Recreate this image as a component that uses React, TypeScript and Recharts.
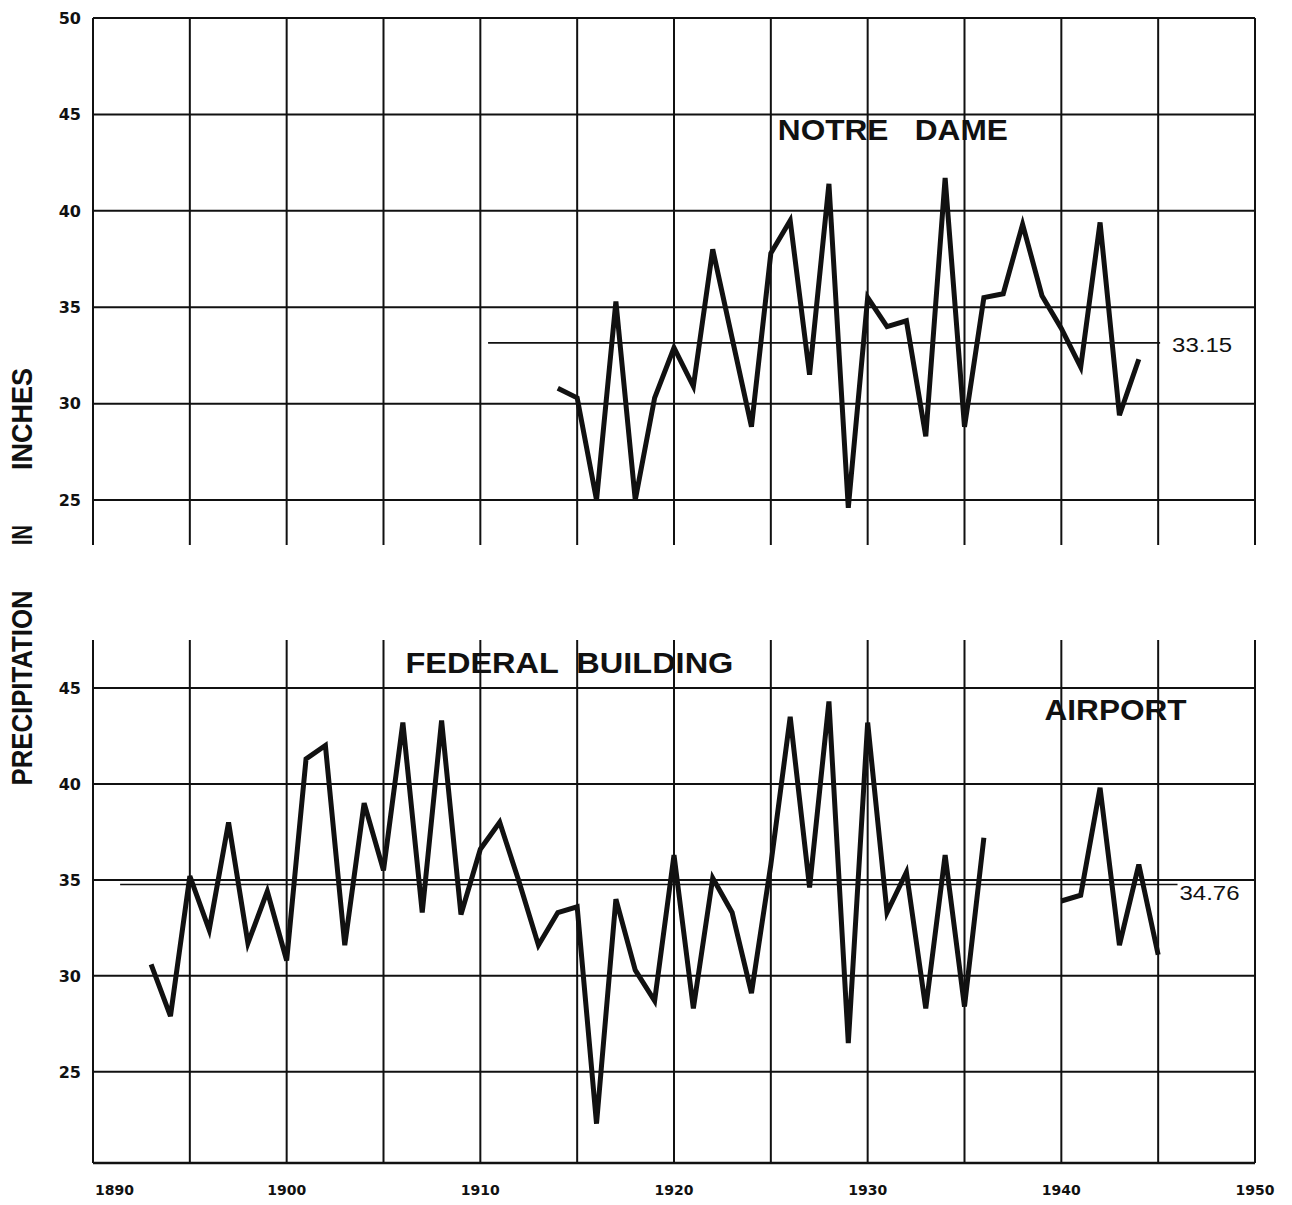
import React from "react";
import { LineChart, Line, XAxis, YAxis, CartesianGrid, ReferenceDot, ReferenceLine } from "recharts";

// annual precipitation
const notreYears = [
  1914, 1915, 1916, 1917, 1918, 1919, 1920, 1921, 1922, 1923, 1924, 1925, 1926, 1927, 1928, 1929,
  1930, 1931, 1932, 1933, 1934, 1935, 1936, 1937, 1938, 1939, 1940, 1941, 1942, 1943, 1944,
];
const notreInches = [
  30.8, 30.3, 25.0, 35.3, 25.0, 30.3, 32.9, 30.9, 38.0, 33.4, 28.8, 37.8, 39.5, 31.5, 41.4, 24.6,
  35.5, 34.0, 34.3, 28.3, 41.7, 28.8, 35.5, 35.7, 39.3, 35.6, 33.9, 31.9, 39.4, 29.4, 32.3,
];

const federalYears = [
  1893, 1894, 1895, 1896, 1897, 1898, 1899, 1900, 1901, 1902, 1903, 1904, 1905, 1906, 1907, 1908,
  1909, 1910, 1911, 1912, 1913, 1914, 1915, 1916, 1917, 1918, 1919, 1920, 1921, 1922, 1923, 1924,
  1925, 1926, 1927, 1928, 1929, 1930, 1931, 1932, 1933, 1934, 1935, 1936,
];
const federalInches = [
  30.6, 27.9, 35.2, 32.4, 38.0, 31.7, 34.4, 30.8, 41.3, 42.0, 31.6, 39.0, 35.5, 43.2, 33.3, 43.3,
  33.2, 36.6, 38.0, 34.9, 31.6, 33.3, 33.6, 22.3, 34.0, 30.3, 28.7, 36.3, 28.3, 35.1, 33.3, 29.1,
  35.8, 43.5, 34.6, 44.3, 26.5, 43.2, 33.3, 35.4, 28.3, 36.3, 28.4, 37.2,
];

const airportYears = [1940, 1941, 1942, 1943, 1944, 1945];
const airportInches = [33.9, 34.2, 39.8, 31.6, 35.8, 31.1];

const notreMean = 33.15;
const notreMeanSpan = [1910.4, 1945.1];
const recordMean = 34.76;
const recordMeanSpan = [1891.4, 1946.0];

const xTicks = [1890, 1895, 1900, 1905, 1910, 1915, 1920, 1925, 1930, 1935, 1940, 1945, 1950];
const topTicks = [25, 30, 35, 40, 45, 50];
const bottomTicks = [25, 30, 35, 40, 45];

const toPoints = (years: number[], vals: number[]) => years.map((year, i) => ({ year, v: vals[i] }));
const meanPoints = (span: number[], v: number) => span.map((year) => ({ year, v }));

const INK = "#111";
const tickStyle = { fill: INK, fontSize: 16, fontWeight: 700, fontFamily: "DejaVu Sans" };

const YearTick = (props: any) => {
  const { x, y, payload } = props;
  if (payload.value % 10 !== 0) return null;
  return (
    <text
      x={payload.value === 1890 ? x + 2 : x}
      y={y + 24}
      textAnchor={payload.value === 1890 ? "start" : "middle"}
      fill={INK}
      fontSize={14}
      fontWeight={700}
      fontFamily="DejaVu Sans"
    >
      {payload.value}
    </text>
  );
};

const meanLabel = (dx: number, dy: number) => (props: any) => {
  const { x, y, index, value } = props;
  if (index !== 1) return null;
  return (
    <text
      x={x + dx}
      y={y + dy}
      fill={INK}
      fontSize={20}
      fontFamily="Liberation Sans"
      dominantBaseline="middle"
      textLength={60}
      lengthAdjust="spacingAndGlyphs"
    >
      {Number(value).toFixed(2)}
    </text>
  );
};

const title = (text: string, len: number) => (p: any) => (
  <text
    x={p.cx}
    y={p.cy}
    textAnchor="middle"
    dominantBaseline="middle"
    fill={INK}
    fontSize={30}
    fontWeight={700}
    fontFamily="Liberation Sans"
    textLength={len}
    lengthAdjust="spacingAndGlyphs"
    style={{ whiteSpace: "pre" }}
  >
    {text}
  </text>
);

const gridLines = (ticks: number[]) =>
  ticks.map((t) => <ReferenceLine key={t} y={t} stroke={INK} strokeWidth={2} />);

export default function App() {
  return (
    <div style={{ position: "absolute", left: 0, top: 0, width: 1292, height: 1205, background: "#fff" }}>
      <div style={{ position: "absolute", left: 0, top: 0 }}>
        <LineChart width={1292} height={560} margin={{ top: 18, right: 37, bottom: 15, left: 0 }}>
          <CartesianGrid stroke={INK} strokeWidth={2} horizontal={false} />
          <XAxis type="number" dataKey="year" domain={[1890, 1950]} ticks={xTicks} hide />
          <YAxis
            type="number"
            domain={[22.67, 50]}
            ticks={topTicks}
            width={93}
            axisLine={false}
            tickLine={false}
            tickMargin={6}
            tick={tickStyle}
            allowDataOverflow
          />
          {gridLines(topTicks)}
          <Line
            data={meanPoints(notreMeanSpan, notreMean)}
            dataKey="v"
            stroke={INK}
            strokeWidth={1.6}
            dot={false}
            isAnimationActive={false}
            label={meanLabel(12, 4)}
          />
          <Line
            data={toPoints(notreYears, notreInches)}
            dataKey="v"
            stroke={INK}
            strokeWidth={5}
            strokeLinejoin="miter"
            dot={false}
            isAnimationActive={false}
          />
          <ReferenceDot x={1931.3} y={44.1} r={0} shape={title("NOTRE   DAME", 230)} ifOverflow="visible" />
        </LineChart>
      </div>

      <div style={{ position: "absolute", left: 0, top: 620 }}>
        <LineChart width={1292} height={585} margin={{ top: 20, right: 37, bottom: 0, left: 0 }}>
          <CartesianGrid stroke={INK} strokeWidth={2} horizontal={false} />
          <XAxis
            type="number"
            dataKey="year"
            domain={[1890, 1950]}
            ticks={xTicks}
            height={42}
            axisLine={{ stroke: INK, strokeWidth: 2.5 }}
            tickLine={false}
            tick={<YearTick />}
          />
          <YAxis
            type="number"
            domain={[20.25, 47.5]}
            ticks={bottomTicks}
            width={93}
            axisLine={false}
            tickLine={false}
            tickMargin={6}
            tick={tickStyle}
            allowDataOverflow
          />
          {gridLines(bottomTicks)}
          <Line
            data={meanPoints(recordMeanSpan, recordMean)}
            dataKey="v"
            stroke={INK}
            strokeWidth={1.6}
            dot={false}
            isAnimationActive={false}
            label={meanLabel(2, 10)}
          />
          <Line
            data={toPoints(federalYears, federalInches)}
            dataKey="v"
            stroke={INK}
            strokeWidth={5}
            strokeLinejoin="miter"
            dot={false}
            isAnimationActive={false}
          />
          <Line
            data={toPoints(airportYears, airportInches)}
            dataKey="v"
            stroke={INK}
            strokeWidth={5}
            strokeLinejoin="miter"
            dot={false}
            isAnimationActive={false}
          />
          <ReferenceDot x={1914.6} y={46.2} r={0} shape={title("FEDERAL  BUILDING", 328)} ifOverflow="visible" />
          <ReferenceDot x={1942.8} y={43.75} r={0} shape={title("AIRPORT", 142)} ifOverflow="visible" />
        </LineChart>
      </div>

      <svg width={60} height={1205} style={{ position: "absolute", left: 0, top: 0, pointerEvents: "none" }}>
        <g fill={INK} fontSize={29} fontWeight={700} fontFamily="Liberation Sans" textAnchor="middle">
          <text transform="translate(32,688) rotate(-90)" textLength={195} lengthAdjust="spacingAndGlyphs">
            PRECIPITATION
          </text>
          <text transform="translate(32,535) rotate(-90)" textLength={20} lengthAdjust="spacingAndGlyphs">
            IN
          </text>
          <text transform="translate(32,419) rotate(-90)" textLength={102} lengthAdjust="spacingAndGlyphs">
            INCHES
          </text>
        </g>
      </svg>
    </div>
  );
}
